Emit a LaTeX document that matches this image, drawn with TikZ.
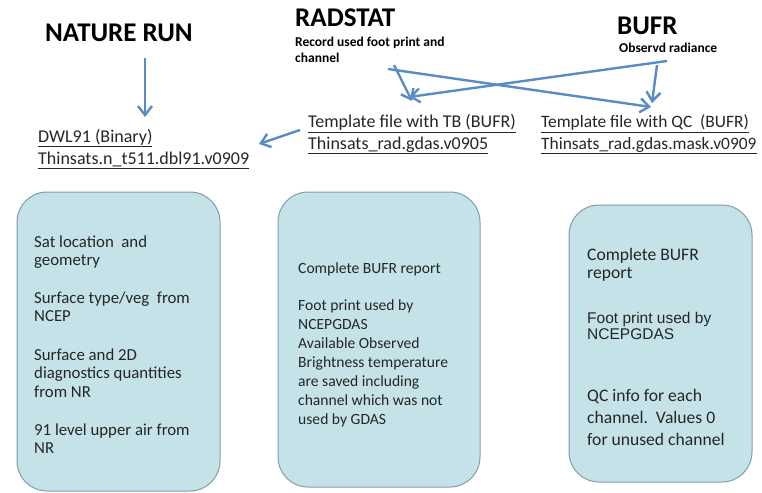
\documentclass[tikz,border=0pt]{standalone}
\usepackage{fontspec}
\setmainfont{Carlito}
\newfontfamily\arialf{Liberation Sans}
\usetikzlibrary{arrows.meta}
\definecolor{arrowblue}{RGB}{88,140,196}
\definecolor{boxfill}{RGB}{196,226,232}
\definecolor{boxline}{RGB}{128,158,168}
\definecolor{txt}{RGB}{38,38,38}
\begin{document}
\begin{tikzpicture}[x=1pt,y=-1pt,
  arr/.style={draw=arrowblue, line width=2.4pt, -{Straight Barb[length=9pt,width=14pt]}},
  box/.style={draw=boxline, line width=1pt, fill=boxfill, rounded corners=30pt},
  title/.style={font=\fontsize{27}{30}\selectfont\bfseries, text=black, inner sep=0pt, anchor=base west},
  sub/.style={font=\fontsize{13.5}{16}\selectfont\bfseries, text=black, inner sep=0pt, anchor=base west},
  lbl/.style={font=\fontsize{18}{21}\selectfont, text=txt, inner sep=0pt, anchor=base west},
  lbls/.style={font=\fontsize{17.4}{21}\selectfont, text=txt, inner sep=0pt, anchor=base west},
  bt/.style={font=\fontsize{16.8}{20}\selectfont, text=txt, inner sep=0pt, anchor=base west},
  btb/.style={font=\fontsize{15.6}{19}\selectfont, text=txt, inner sep=0pt, anchor=base west},
  bta/.style={font=\arialf\fontsize{15.5}{18}\selectfont, text=txt, inner sep=0pt, anchor=base west},
  btq/.style={font=\fontsize{17.6}{21}\selectfont, text=txt, inner sep=0pt, anchor=base west}]
\useasboundingbox (0,0) rectangle (762,492);
\fill[white] (0,0) rectangle (762,492);

% titles
\node[title] (nr) at (45,42) {NATURE RUN};
\node[title] (rad) at (295,27) {RADSTAT};
\node[sub] (rads1) at (295,47) {Record used foot print and};
\node[sub] (rads2) at (295,63) {channel};
\node[title] (bufr) at (617,35) {BUFR};
\node[sub] (bufrs) at (619,53) {Observd radiance};

% file labels
\node[lbl] (dwl1) at (38,142) {\underline{DWL91 (Binary)}};
\node[lbl] (dwl2) at (38,164) {\underline{Thinsats.n\_t511.dbl91.v0909}};
\node[lbl] (tb1) at (308,128) {\underline{Template file with TB (BUFR)}};
\node[lbl] (tb2) at (308,149) {\underline{Thinsats\_rad.gdas.v0905}};
\node[lbls] (qc1) at (541,128) {\underline{Template file with QC\ \ (BUFR)}};
\node[lbls] (qc2) at (541,149) {\underline{Thinsats\_rad.gdas.mask.v0909}};

% arrow end points
\coordinate (nrA) at (145,58);
\coordinate (nrB) at (145,117);
\coordinate (tbA) at (300,130);
\coordinate (tbB) at (259,144);
\coordinate (radA) at (394,65);
\coordinate (radB) at (412,101);
\coordinate (radC) at (388,69);
\coordinate (radD) at (651,107);
\coordinate (bfA) at (667,61);
\coordinate (bfB) at (409,97);
\coordinate (bfC) at (657,65);
\coordinate (bfD) at (652,103);

\draw[arr] (nrA) -- (nrB);
\draw[arr] (tbA) -- (tbB);
\draw[arr] (radA) -- (radB);
\draw[arr] (radC) -- (radD);
\draw[arr] (bfA) -- (bfB);
\draw[arr] (bfC) -- (bfD);

% boxes
\draw[box] (17,192) rectangle (220,491);
\draw[box] (278,192) rectangle (480,487);
\draw[box] (569,205) rectangle (752,482);

% box 1 text
\node[bt] (a1) at (34,247) {Sat location\ \ and};
\node[bt] (a2) at (34,265) {geometry};
\node[bt] (a3) at (34,303) {Surface type/veg\ \ from};
\node[bt] (a4) at (34,321) {NCEP};
\node[bt] (a5) at (34,360) {Surface and 2D};
\node[bt] (a6) at (34,378) {diagnostics quantities};
\node[bt] (a7) at (34,397) {from NR};
\node[bt] (a8) at (34,435) {91 level upper air from};
\node[bt] (a9) at (34,453) {NR};

% box 2 text
\node[btb] (b1) at (298,273) {Complete BUFR report};
\node[btb] (b2) at (298,310) {Foot print used by};
\node[btb] (b3) at (298,329) {NCEPGDAS};
\node[btb] (b4) at (298,348) {Available Observed};
\node[btb] (b5) at (298,367) {Brightness temperature};
\node[btb] (b6) at (298,386) {are saved including};
\node[btb] (b7) at (298,405) {channel which was not};
\node[btb] (b8) at (298,424) {used by GDAS};

% box 3 text
\node[btq] (c1) at (587,260) {Complete BUFR};
\node[btq] (c2) at (587,278) {report};
\node[bta] (c3) at (587,323) {Foot print used by};
\node[bta] (c4) at (587,339) {NCEPGDAS};
\node[btq] (c5) at (587,401) {QC info for each};
\node[btq] (c6) at (587,423) {channel.\ \ Values 0};
\node[btq] (c7) at (587,445) {for unused channel};
\end{tikzpicture}
\end{document}
